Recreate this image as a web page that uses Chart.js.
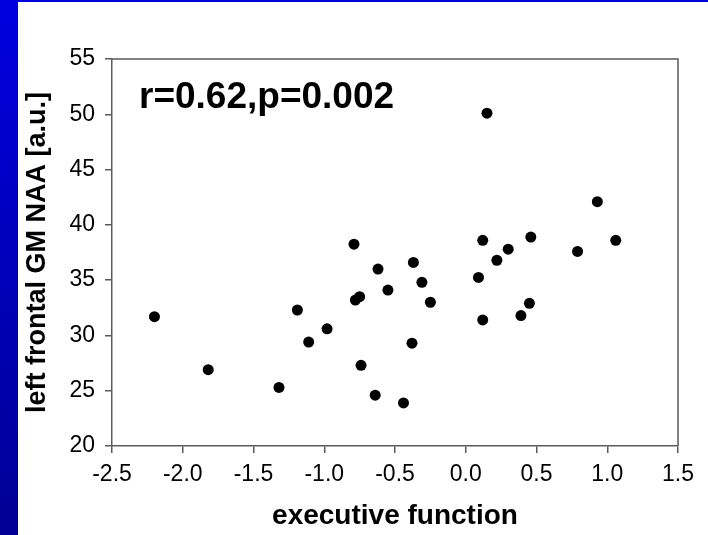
<!DOCTYPE html>
<html>
<head>
<meta charset="utf-8">
<script src="https://cdn.jsdelivr.net/npm/chart.js@4.4.1/dist/chart.umd.min.js"></script>
<style>
  html, body { margin: 0; padding: 0; background: #ffffff; }
  #wrap { position: relative; width: 708px; height: 535px; overflow: hidden; background: #ffffff; }
  #bar { position: absolute; left: 0; top: 0; width: 18px; height: 535px;
         background: linear-gradient(to bottom, #0000e0, #000094); }
  #topline { position: absolute; left: 0; top: 0; width: 708px; height: 2px; background: #0000dd; }
  canvas { position: absolute; left: 0; top: 0; }
</style>
</head>
<body>
<div id="wrap">
  <div id="bar"></div>
  <div id="topline"></div>
  <canvas id="c" width="708" height="535"></canvas>
</div>
<script>
// ---- data ----
const execFunction = [
  -2.20, -1.82, -1.32, -1.19, -1.11, -0.98, -0.79, -0.78, -0.75, -0.74,
  -0.64, -0.62, -0.55, -0.44, -0.38, -0.37, -0.31, -0.25,
   0.09,  0.12,  0.12,  0.15,  0.22,  0.30,  0.39,  0.45,  0.46,
   0.79,  0.93,  1.06
];
const leftFrontalNAA = [
  31.7, 26.9, 25.3, 32.3, 29.4, 30.6, 38.25, 33.2, 33.5, 27.3,
  24.6, 36.0, 34.1, 23.9, 29.3, 36.6, 34.8, 33.0,
  35.25, 38.6, 31.4, 50.1, 36.8, 37.8, 31.8, 32.9, 38.9,
  37.6, 42.1, 38.6
];
const xTickValues = [-2.5, -2.0, -1.5, -1.0, -0.5, 0.0, 0.5, 1.0, 1.5];
const yTickValues = [20, 25, 30, 35, 40, 45, 50, 55];
const xTitle = 'executive function';
const yTitle = 'left frontal GM NAA [a.u.]';
const statText = 'r=0.62,p=0.002';

const FONT = '"Liberation Sans", Arial, Helvetica, sans-serif';
const AXIS_COLOR = '#5a5a5a';

const points = execFunction.map((x, i) => ({ x: x, y: leftFrontalNAA[i] }));

const framePlugin = {
  id: 'frame',
  afterDatasetsDraw(chart) {
    const { ctx, chartArea: a } = chart;
    ctx.save();
    ctx.strokeStyle = AXIS_COLOR;
    ctx.lineWidth = 1.5;
    ctx.beginPath();
    ctx.moveTo(a.left, a.top);
    ctx.lineTo(a.right, a.top);
    ctx.lineTo(a.right, a.bottom);
    ctx.stroke();
    ctx.fillStyle = '#000000';
    ctx.font = 'bold 37px ' + FONT;
    ctx.textAlign = 'left';
    ctx.textBaseline = 'alphabetic';
    ctx.fillText(statText, a.left + 27, a.top + 49);
    ctx.restore();
  }
};

new Chart(document.getElementById('c'), {
  type: 'scatter',
  data: {
    datasets: [{
      data: points,
      backgroundColor: '#000000',
      borderWidth: 0,
      pointRadius: 5.5,
      pointHoverRadius: 5.5
    }]
  },
  options: {
    responsive: false,
    animation: false,
    devicePixelRatio: 1,
    layout: { padding: { left: 0, top: 59, right: 30, bottom: 0 } },
    plugins: { legend: { display: false }, tooltip: { enabled: false } },
    scales: {
      x: {
        type: 'linear',
        min: -2.5, max: 1.5,
        afterBuildTicks: (s) => { s.ticks = xTickValues.map(v => ({ value: v })); },
        afterFit: (s) => { s.height = 89; },
        border: { display: true, color: AXIS_COLOR, width: 1.5 },
        grid: { drawOnChartArea: false, drawTicks: true, tickLength: 7, color: AXIS_COLOR, lineWidth: 1.5 },
        ticks: {
          color: '#000000', padding: 8, maxRotation: 0, autoSkip: false,
          font: { family: FONT, size: 23 },
          callback: (v) => Number(v).toFixed(1)
        },
        title: {
          display: true, text: xTitle, color: '#000000',
          font: { family: FONT, size: 28, weight: 'bold', lineHeight: 1 },
          padding: { top: 0, bottom: 5 }
        }
      },
      y: {
        type: 'linear',
        min: 20, max: 55,
        afterBuildTicks: (s) => { s.ticks = yTickValues.map(v => ({ value: v })); },
        afterFit: (s) => { s.width = 112; },
        border: { display: true, color: AXIS_COLOR, width: 1.5 },
        grid: { drawOnChartArea: false, drawTicks: true, tickLength: 7, color: AXIS_COLOR, lineWidth: 1.5 },
        ticks: {
          color: '#000000', padding: 10, autoSkip: false,
          font: { family: FONT, size: 23 },
          callback: (v) => String(v)
        },
        title: {
          display: true, text: yTitle, color: '#000000',
          font: { family: FONT, size: 27, weight: 'bold', lineHeight: 1 },
          padding: { top: 24, bottom: 0 }
        }
      }
    }
  },
  plugins: [framePlugin]
});
</script>
</body>
</html>
